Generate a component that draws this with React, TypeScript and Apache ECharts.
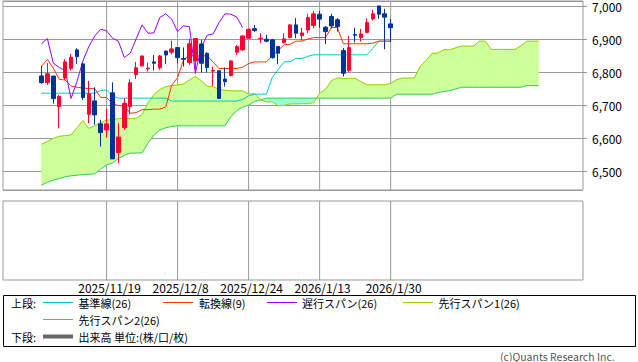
import React, { useEffect, useRef } from 'react';
import * as echarts from 'echarts';

const FONT = '"Noto Sans CJK JP", "Noto Sans", sans-serif';
const N_CAT = 98;
const START = 6;

const tickIndex = [17, 29, 41, 53, 65];
const tickLabels = ['2025/11/19', '2025/12/8', '2025/12/24', '2026/1/13', '2026/1/30'];
const categories = Array.from({ length: N_CAT }, (_, i) => String(i));

// [open, close, low, high] from index 6 to 65
const ohlc: number[][] = [
  [6789.5, 6769, 6765, 6820],
  [6769, 6796, 6762, 6828],
  [6789, 6720.6, 6705, 6790],
  [6696, 6727, 6630, 6732],
  [6783, 6832, 6777, 6840],
  [6812, 6846, 6806, 6856],
  [6868.5, 6848, 6826, 6873.5],
  [6826, 6724, 6717, 6828],
  [6673, 6735, 6646, 6774.5],
  [6713.5, 6671, 6641, 6755],
  [6644, 6617.5, 6575, 6656],
  [6625.5, 6644, 6602, 6691],
  [6738, 6537.5, 6537, 6770],
  [6556.6, 6604, 6524, 6646],
  [6632.5, 6706.5, 6625.5, 6722],
  [6696, 6769, 6673, 6779],
  [6793.5, 6814, 6780, 6832],
  [6820, 6850, 6818, 6851],
  [6811, 6813, 6803, 6830],
  [6832, 6828, 6806, 6853],
  [6814, 6850, 6808, 6853],
  [6865, 6853, 6826, 6866],
  [6861.5, 6871.5, 6855, 6896],
  [6875.5, 6845, 6828, 6876],
  [6842, 6840, 6818, 6876],
  [6830, 6887, 6823, 6902],
  [6835, 6903, 6797, 6904],
  [6886.7, 6828, 6800, 6899],
  [6858, 6815, 6800, 6861],
  [6804, 6806, 6759, 6818],
  [6805, 6721, 6720, 6806],
  [6780, 6772, 6757, 6815],
  [6790.5, 6835, 6789, 6837],
  [6861.5, 6878.6, 6853, 6883.6],
  [6868.5, 6911, 6866, 6912],
  [6904, 6931, 6902, 6934],
  [6933, 6927, 6923, 6944],
  [6902, 6904, 6889, 6919],
  [6901, 6895, 6892, 6914],
  [6899, 6845, 6842, 6902],
  [6878.6, 6858.5, 6825, 6879],
  [6890.7, 6902, 6889, 6919],
  [6906, 6944.4, 6903, 6946],
  [6944.4, 6919, 6904, 6965],
  [6912, 6920, 6897, 6935],
  [6929, 6967, 6919, 6978],
  [6942.4, 6978, 6934, 6987],
  [6977, 6962, 6936, 6987],
  [6937.3, 6924, 6886, 6941],
  [6970, 6941.4, 6934, 6978],
  [6960, 6939, 6924, 6965],
  [6866.5, 6797.6, 6787.5, 6874],
  [6805.7, 6875.5, 6800.6, 6911],
  [6915, 6913, 6891, 6936],
  [6906, 6917, 6894, 6932],
  [6921, 6951.5, 6921, 6965],
  [6962.6, 6978, 6958, 6990],
  [7002, 6977, 6963, 7002],
  [6978, 6968, 6870.5, 6993],
  [6947.4, 6936, 6892, 6962.6],
];

// 転換線(9), index 6..65
const tenkan = [
  6818, 6840, 6813, 6779, 6777, 6759, 6755, 6753, 6751, 6751,
  6724, 6724, 6705, 6699, 6699, 6676, 6678, 6687, 6687, 6688.5,
  6688.5, 6695, 6761, 6784.5, 6838, 6852.5, 6850.5, 6850.5, 6850.5, 6831.5,
  6812, 6812, 6812, 6812, 6816, 6827, 6832, 6832, 6832, 6850.5,
  6866.5, 6884.5, 6885.5, 6895, 6895, 6901.5, 6906, 6906, 6906, 6936.5,
  6936.5, 6887, 6887, 6887, 6887, 6887, 6889, 6895, 6895, 6895,
];

// 基準線(26), index 6..65
const kijun = [
  6737, 6737, 6737, 6737, 6737, 6737, 6737, 6737, 6737, 6737,
  6745, 6747, 6729, 6722, 6722, 6722, 6722, 6722, 6722, 6722,
  6722, 6722, 6713, 6713, 6713, 6713, 6713, 6713, 6713, 6713,
  6713, 6713, 6713, 6713, 6718, 6729, 6734, 6734, 6734, 6785,
  6808.5, 6832, 6833, 6842.5, 6842.5, 6849, 6853.5, 6853.5, 6853.5, 6853.5,
  6853.5, 6853.5, 6853.5, 6853.5, 6853.5, 6853.5, 6873.5, 6895, 6895, 6895,
];

// 遅行スパン(26), index 6..40
const chikou = [
  6887, 6903, 6828, 6815, 6806, 6721, 6772, 6835, 6878.6, 6911,
  6931, 6927, 6904, 6895, 6845, 6858.5, 6902, 6944.4, 6919, 6920,
  6967, 6978, 6962, 6924, 6941.4, 6939, 6797.6, 6875.5, 6913, 6917,
  6951.5, 6978, 6977, 6968, 6936,
];

// 先行スパン1(26), index 6..90
const span1 = [
  6582, 6590, 6600, 6606, 6608, 6610, 6632, 6654, 6630, 6638,
  6648, 6655, 6657, 6660, 6660, 6660, 6661, 6672, 6708, 6733,
  6748, 6757, 6760, 6762, 6765, 6777.5, 6788.5, 6775, 6758, 6757,
  6748, 6746, 6744, 6744, 6744, 6734.5, 6735.5, 6717, 6710.5, 6710.5,
  6699, 6700, 6704.5, 6704.5, 6705, 6705, 6708.5, 6737, 6749, 6775.5,
  6783, 6782, 6782, 6782, 6772, 6762.5, 6762.5, 6762.5, 6762.5, 6767,
  6778, 6783, 6783, 6783, 6818, 6837.5, 6858, 6859, 6869, 6869,
  6875, 6880, 6880, 6880, 6895, 6895, 6870, 6870, 6870, 6870,
  6870, 6881, 6895, 6895, 6895,
];

// 先行スパン2(26), index 6..90
const span2 = [
  6458, 6466, 6473, 6478, 6483, 6486, 6488, 6490, 6491, 6492,
  6507, 6519, 6525, 6539, 6548, 6555, 6555, 6556, 6585, 6610,
  6625, 6632, 6636, 6638, 6638, 6638, 6638, 6638, 6638, 6638,
  6638, 6638, 6665, 6684, 6695, 6701, 6712, 6717, 6722, 6722,
  6722, 6722, 6722, 6722, 6722, 6722, 6722, 6722, 6722, 6722,
  6722, 6722, 6722, 6722, 6722, 6722, 6722, 6722, 6722, 6722,
  6734, 6734, 6734, 6734, 6734, 6734, 6734, 6739, 6742, 6745,
  6750, 6755, 6755, 6755, 6755, 6755, 6755, 6755, 6755, 6755,
  6755, 6755, 6760, 6760, 6760,
];

const C_KIJUN = '#00c8c8';
const C_TENKAN = '#ff3300';
const C_CHIKOU = '#9900ff';
const C_SPAN1 = '#99cc00';
const C_SPAN2 = '#33cc66';
const C_CLOUD_UP = '#ccff99';
const C_CLOUD_DOWN = '#99ffcc';
const C_UP = '#ff0033';
const C_DOWN = '#003399';
const C_GRID = '#999999';

const Y_MIN = 6443;
const Y_MAX = 7017;

function pad(arr: any[], start: number, empty: any = null) {
  const out: any[] = new Array(N_CAT).fill(empty);
  arr.forEach((v, k) => {
    out[start + k] = v;
  });
  return out;
}

export default function App() {
  const ref = useRef<HTMLDivElement>(null);

  useEffect(() => {
    document.body.style.margin = '0';
    if (!ref.current) return;
    const chart = echarts.init(ref.current, undefined, { renderer: 'svg' });

    const cloudData = span1.slice(0, -1).map((v, k) => [
      START + k,
      v,
      span1[k + 1],
      span2[k],
      span2[k + 1],
    ]);

    const isTick = (idx: number) => tickIndex.indexOf(Number(idx)) >= 0;

    // full-height marker at each labelled date, used as the vertical grid line
    const gridBarData = new Array(N_CAT).fill(null);
    tickIndex.forEach((i) => {
      gridBarData[i] = 1;
    });

    const gridBars = (axisIdx: number, yIdx: number) => ({
      name: 'vgrid' + axisIdx,
      type: 'bar',
      xAxisIndex: axisIdx,
      yAxisIndex: yIdx,
      data: gridBarData,
      barWidth: 1,
      barGap: '-100%',
      itemStyle: { color: C_GRID },
      silent: true,
      z: 2,
    });

    const lineSeries = (name: string, data: number[], start: number, color: string, z: number) => ({
      name,
      type: 'line',
      xAxisIndex: 0,
      yAxisIndex: 0,
      data: pad(data, start),
      symbol: 'none',
      showSymbol: false,
      connectNulls: false,
      lineStyle: { color, width: 1 },
      itemStyle: { color },
      z,
    });

    const txt = (text: string, x: number, y: number, fill = '#000', size = 11) => ({
      type: 'text',
      x,
      y,
      z: 10,
      style: {
        text,
        font: `${size}px ${FONT}`,
        fill,
        align: 'left',
        verticalAlign: 'middle',
      },
    });
    const seg = (x1: number, x2: number, y: number, color: string, w = 1) => ({
      type: 'line',
      z: 10,
      shape: { x1, y1: y, x2, y2: y },
      style: { stroke: color, lineWidth: w },
    });

    const R1 = 302.5, R2 = 319.5, R3 = 336.5;

    const option: any = {
      animation: false,
      backgroundColor: '#ffffff',
      textStyle: { fontFamily: FONT },
      grid: [
        { left: 3, top: 1, width: 580, height: 189, show: true, borderColor: C_GRID, borderWidth: 1, backgroundColor: 'transparent' },
        { left: 3, top: 201, width: 580, height: 79, show: true, borderColor: C_GRID, borderWidth: 1, backgroundColor: 'transparent' },
      ],
      xAxis: [
        {
          type: 'category',
          gridIndex: 0,
          data: categories,
          boundaryGap: true,
          axisLine: { show: false },
          axisLabel: { show: false },
          axisTick: { show: false },
          splitLine: { show: false },
        },
        {
          type: 'category',
          gridIndex: 1,
          data: categories,
          boundaryGap: true,
          axisLine: { show: false },
          axisLabel: {
            show: true,
            interval: (idx: number) => isTick(idx),
            formatter: (_v: string, idx: number) => {
              const k = tickIndex.indexOf(idx);
              return k >= 0 ? tickLabels[k] : '';
            },
            fontSize: 12,
            lineHeight: 12,
            fontFamily: FONT,
            color: '#000',
            margin: 1,
            padding: [0, 0, 0, 6],
          },
          axisTick: { show: false },
          splitLine: { show: false },
        },
      ],
      yAxis: [
        {
          type: 'value',
          gridIndex: 0,
          position: 'right',
          min: Y_MIN,
          max: Y_MAX,
          splitNumber: 5,
          axisLine: { show: false },
          axisTick: { show: true, length: 4, lineStyle: { color: C_GRID } },
          splitLine: { show: true, lineStyle: { color: C_GRID, width: 1 } },
          axisLabel: {
            showMinLabel: false,
            showMaxLabel: false,
            margin: 9,
            fontSize: 12,
            lineHeight: 12,
            fontFamily: FONT,
            color: '#000',
            formatter: (v: number) => v.toLocaleString('en-US'),
          },
        },
        {
          type: 'value',
          gridIndex: 1,
          show: false,
          min: 0,
          max: 1,
          splitLine: { show: false },
        },
        {
          type: 'value',
          gridIndex: 0,
          show: false,
          min: 0,
          max: 1,
          splitLine: { show: false },
        },
      ],
      series: [
        gridBars(0, 2),
        gridBars(1, 1),
        {
          name: 'cloud',
          type: 'custom',
          xAxisIndex: 0,
          yAxisIndex: 0,
          data: cloudData,
          encode: { x: 0, y: [1, 2, 3, 4] },
          z: 3,
          silent: true,
          renderItem: (_params: any, api: any) => {
            const i = Number(api.value(0));
            const a1 = api.value(1), a2 = api.value(2), b1 = api.value(3), b2 = api.value(4);
            const A1 = api.coord([i, a1]);
            const A2 = api.coord([i + 1, a2]);
            const B1 = api.coord([i, b1]);
            const B2 = api.coord([i + 1, b2]);
            const d1 = a1 - b1, d2 = a2 - b2;
            const poly = (pts: number[][], c: string) => ({
              type: 'polygon',
              shape: { points: pts },
              style: { fill: c, stroke: c, lineWidth: 0.6 },
            });
            const col = (d: number) => (d >= 0 ? C_CLOUD_UP : C_CLOUD_DOWN);
            let children: any[];
            if (d1 * d2 >= 0) {
              children = [poly([A1, A2, B2, B1], col(d1 + d2))];
            } else {
              const t = d1 / (d1 - d2);
              const C = [A1[0] + t * (A2[0] - A1[0]), A1[1] + t * (A2[1] - A1[1])];
              children = [poly([A1, C, B1], col(d1)), poly([C, A2, B2], col(d2))];
            }
            return { type: 'group', children };
          },
        },
        lineSeries('先行スパン2(26)', span2, START, C_SPAN2, 4),
        lineSeries('先行スパン1(26)', span1, START, C_SPAN1, 4),
        lineSeries('基準線(26)', kijun, START, C_KIJUN, 5),
        lineSeries('転換線(9)', tenkan, START, C_TENKAN, 5),
        lineSeries('遅行スパン(26)', chikou, START, C_CHIKOU, 5),
        {
          name: 'price',
          type: 'candlestick',
          xAxisIndex: 0,
          yAxisIndex: 0,
          data: pad(ohlc, START, '-'),
          barWidth: 4,
          z: 6,
          itemStyle: {
            color: C_UP,
            color0: C_DOWN,
            borderColor: C_UP,
            borderColor0: C_DOWN,
            borderWidth: 1,
          },
        },
      ],
      graphic: [
        {
          type: 'rect',
          z: 10,
          shape: { x: 3.5, y: 295.5, width: 632, height: 51 },
          style: { fill: 'none', stroke: '#000', lineWidth: 1 },
        },
        txt('上段:', 11, R1),
        seg(43, 73, R1, C_KIJUN),
        txt('基準線(26)', 78.5, R1),
        seg(163, 193, R1, C_TENKAN),
        txt('転換線(9)', 199, R1),
        seg(267, 297, R1, C_CHIKOU),
        txt('遅行スパン(26)', 302, R1),
        seg(403, 433, R1, C_SPAN1),
        txt('先行スパン1(26)', 438.5, R1),
        seg(43, 73, R2, C_SPAN2),
        txt('先行スパン2(26)', 78.5, R2),
        txt('下段:', 11, R3),
        seg(43, 73, R3, '#666666', 4),
        txt('出来高 単位:(株/口/枚)', 78.5, R3),
        txt('(c)Quants Research Inc.', 500, 356, '#555555', 10.5),
      ],
    };

    chart.setOption(option);

    return () => {
      chart.dispose();
    };
  }, []);

  return <div ref={ref} style={{ width: 638, height: 362 }} />;
}
